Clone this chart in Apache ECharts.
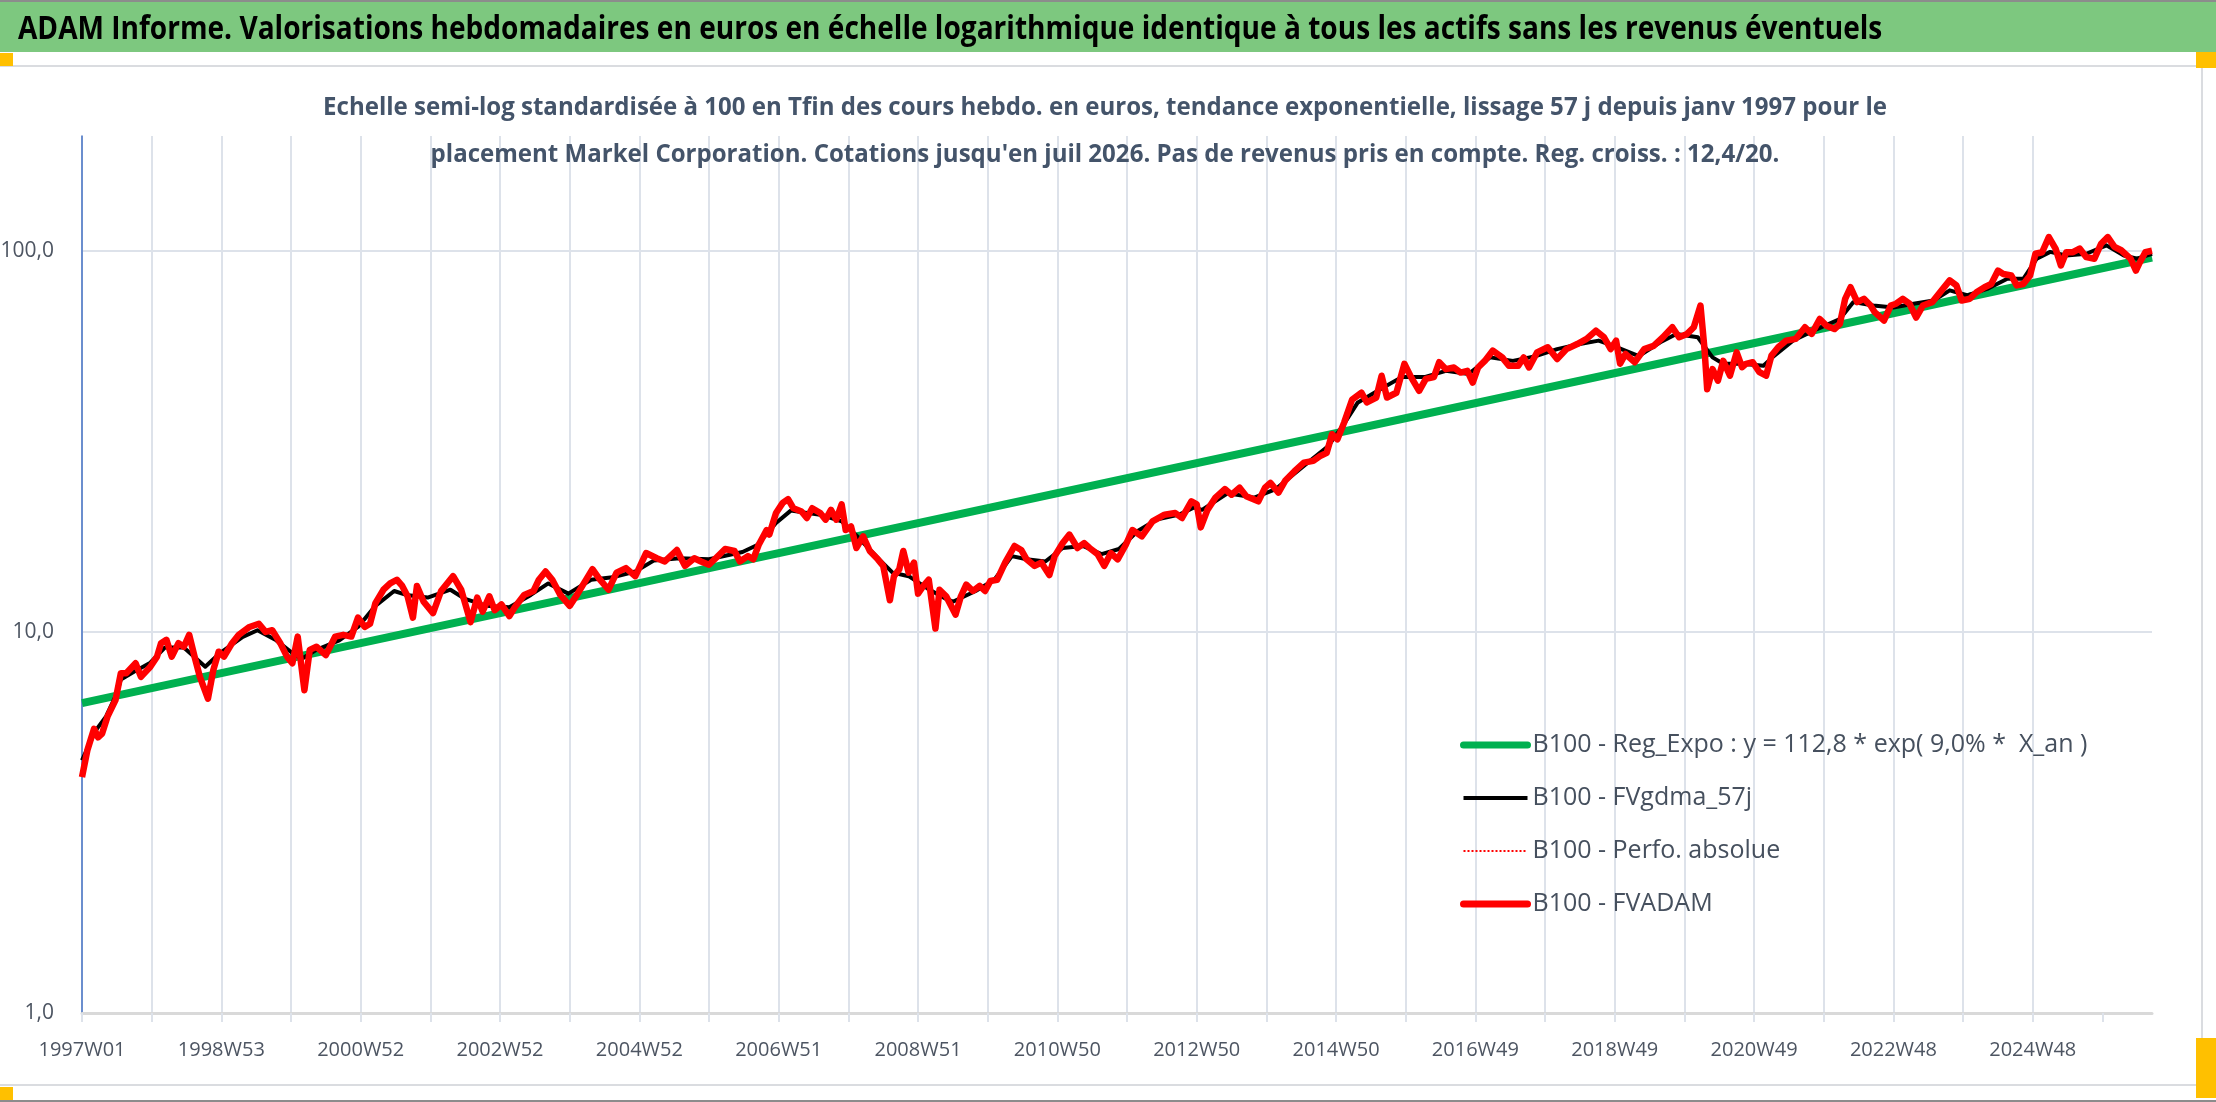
<!DOCTYPE html>
<html>
<head>
<meta charset="utf-8">
<script src="https://cdn.jsdelivr.net/npm/echarts@6/dist/echarts.min.js"></script>
<style>
html,body{margin:0;padding:0;background:#fff;}
#chart{width:2216px;height:1102px;}
</style>
</head>
<body>
<div id="chart"></div>
<script>
// ---------- DATA ----------
const titleText = "ADAM Informe. Valorisations hebdomadaires en euros en échelle logarithmique identique à tous les actifs sans les revenus éventuels";
const subtitleLines = [
  "Echelle semi-log standardisée à 100 en Tfin des cours hebdo. en euros, tendance exponentielle, lissage 57 j depuis janv 1997 pour le",
  "placement Markel Corporation. Cotations jusqu'en juil 2026. Pas de revenus pris en compte. Reg. croiss. : 12,4/20."
];
const seriesNames = [
  "B100 - Reg_Expo : y = 112,8 * exp( 9,0% *  X_an )",
  "B100 - FVgdma_57j",
  "B100 - Perfo. absolue",
  "B100 - FVADAM"
];
// x tick labels, one every 104 weeks starting at week 0
const xTickLabels = ["1997W01","1998W53","2000W52","2002W52","2004W52","2006W51","2008W51",
  "2010W50","2012W50","2014W50","2016W49","2018W49","2020W49","2022W48","2024W48"];
const weeksPerGrid = 52;
const lastWeek = 1545;

// [week index, value]
const regExpo = [[0, 6.5], [1545, 96]];

const fvadam = [
[0,4.16],[4,4.89],[9,5.57],[12,5.29],[15,5.41],[19,5.99],[25,6.62],[29,7.79],[33,7.79],[40,8.27],[44,7.62],[51,8.1],
[56,8.61],[59,9.34],[63,9.53],[67,8.61],[72,9.34],[76,9.14],[80,9.82],[84,8.61],[88,7.62],[94,6.68],[98,7.94],[102,8.87],
[106,8.61],[112,9.34],[117,9.82],[125,10.3],[132,10.5],[137,10.0],[142,10.1],[148,9.34],[153,8.61],[157,8.27],[161,9.72],
[166,7.03],[170,8.97],[175,9.14],[182,8.69],[189,9.72],[195,9.82],[201,9.72],[206,10.9],[211,10.3],[215,10.5],[219,11.9],
[225,12.9],[230,13.4],[235,13.7],[239,13.2],[243,12.4],[247,10.9],[250,13.2],[255,12.0],[262,11.2],[268,12.8],[277,14.0],
[283,12.9],[290,10.6],[295,12.3],[299,11.3],[304,12.4],[308,11.4],[313,11.8],[319,11.0],[323,11.6],[330,12.5],[337,12.8],
[341,13.7],[346,14.4],[351,13.7],[357,12.5],[364,11.7],[370,12.6],[374,13.3],[381,14.6],[386,13.8],[393,12.9],[399,14.3],
[406,14.7],[413,14.0],[421,16.1],[429,15.6],
[435,15.3],[444,16.4],[450,14.9],[457,15.6],[462,15.3],[468,15.0],[473,15.6],[480,16.5],[487,16.3],[491,15.3],[497,15.8],
[501,15.5],[505,16.9],[511,18.5],[513,18.0],[518,20.5],[523,21.8],[527,22.3],[531,21.1],[537,20.7],[541,19.9],[545,21.1],
[551,20.5],[555,19.7],[559,20.9],[563,19.7],[567,21.6],[570,18.5],[574,18.9],[578,16.6],[583,17.8],[588,16.3],[594,15.5],
[598,14.9],[603,12.1],[606,14.0],[610,14.6],[613,16.3],[617,14.3],[621,15.2],[624,12.6],[628,13.2],[632,13.7],[637,10.2],
[640,12.9],[645,12.4],[652,11.1],[656,12.4],[660,13.3],[665,12.8],[670,13.2],[674,12.8],[678,13.6],[683,13.7],[689,15.2],
[696,16.8],[701,16.4],[705,15.5],[711,14.9],[716,15.2],[722,14.1],[726,15.8],[732,17.1],[737,18.0],[743,16.6],[748,17.1],
[752,16.6],[758,16.0],[763,14.9],[768,16.1],[773,15.5],[779,16.9],[784,18.5],[791,17.8],[799,19.5],[808,20.3],[816,20.5],
[821,19.9],[828,22.0],[832,21.6],[835,18.8],
[840,20.9],[846,22.5],[853,23.7],[858,22.9],[864,23.9],[869,22.7],[878,22.0],[883,23.9],[887,24.6],[893,23.2],[898,24.9],
[905,26.4],[912,27.8],[919,28.1],[924,28.9],[929,29.5],[933,33.0],[937,32.0],[942,35.4],[948,40.7],[955,42.4],[959,40.0],
[966,41.2],[970,47.0],[974,41.2],[981,42.4],[987,50.5],[992,46.6],[998,42.9],[1003,46.1],[1009,46.6],[1013,51.0],[1018,48.9],
[1024,49.4],[1029,47.9],[1034,48.4],[1038,45.1],[1042,49.4],[1047,51.4],[1053,54.7],[1060,52.5],[1065,49.9],[1072,49.9],
[1076,52.5],[1080,49.4],[1086,54.1],[1094,55.8],[1101,52.0],[1108,55.2],[1116,56.9],[1123,58.7],[1130,61.7],[1136,59.3],
[1141,55.2],[1145,58.1],[1148,50.5],[1152,53.6],[1159,51.0],[1166,55.2],[1173,56.3],[1180,59.3],[1187,63.0],[1192,59.3],
[1198,60.5],[1203,63.0],[1208,71.8],[1211,55.2],[1213,43.3],[1217,48.9],[1221,45.6],[1225,51.4],[1230,47.0],[1235,54.1],
[1239,49.5],[1242,50.5],[1247,51.0],[1252,48.0],[1257,47.0],[1261,53.1],[1266,55.8],[1272,58.1],[1279,58.7],[1286,63.0],
[1291,60.5],[1297,66.2],[1302,63.6],[1308,62.3],[1312,64.3],[1316,74.8],[1320,80.2],[1325,73.3],[1330,74.8],[1335,71.8],
[1338,69.0],[1345,65.6],[1350,71.8],[1354,72.6],[1359,74.8],[1364,72.6],[1369,66.8],[1374,71.8],[1381,73.3],[1388,78.7],
[1394,83.6],[1399,81.1],[1403,74.0],[1409,74.8],[1414,77.8],[1420,80.2],[1425,81.8],[1430,88.7],[1434,86.9],[1440,86.1],
[1444,81.1],[1449,81.8],[1454,86.1],[1458,98.2],[1463,99.1],[1468,108.6],[1473,101.3],[1477,91.5],[1481,99.1],[1486,99.1],
[1491,101.3],[1496,96.2],[1502,95.3],[1507,104.3],[1512,108.6],[1517,102.4],[1522,100.3],[1529,95.3],[1533,88.7],[1536,93.3],
[1540,99.1],[1545,100.0]
];

const fvgdma = [
[0,4.6],[10,5.5],[18,6.0],[26,6.9],[29,7.5],[40,7.9],[51,8.3],[62,9.1],[76,9.1],[92,8.1],[103,8.8],[120,9.7],[131,10.1],
[145,9.5],[157,8.8],[164,8.5],[175,8.97],[192,9.5],[206,10.3],[219,11.7],[233,12.8],[242,12.5],[258,12.3],[275,12.9],
[286,12.2],[302,11.7],[319,11.6],[335,12.5],[348,13.4],[363,12.6],[380,13.7],[396,13.9],[413,14.4],[427,15.4],[446,15.6],
[468,15.5],[493,16.2],[504,16.9],[518,19.3],[529,20.8],[551,20.3],[567,19.5],[578,17.9],[595,15.5],[605,14.3],[617,14.0],
[631,13.0],[645,12.2],[650,12.0],[667,12.8],[681,13.7],[694,15.8],[705,15.5],[719,15.3],[732,16.6],[747,16.8],[761,16.0],
[774,16.5],[788,18.4],[802,19.7],[819,20.3],[830,21.2],[836,20.9],[855,23.1],[875,22.5],[891,23.7],[911,27.1],[930,30.7],
[941,34.7],[952,39.9],[969,43.3],[985,46.6],[1002,46.6],[1018,48.4],[1035,47.5],[1051,52.5],[1068,51.4],[1085,52.9],
[1101,55.2],[1118,56.9],[1132,58.1],[1143,56.3],[1162,52.9],[1178,57.5],[1190,60.5],[1206,59.3],[1217,52.5],[1225,50.5],
[1239,50.5],[1255,49.9],[1262,52.6],[1277,58.1],[1295,62.3],[1312,66.2],[1322,73.3],[1337,71.8],[1352,71.0],[1367,72.6],
[1382,74.0],[1394,78.7],[1407,76.4],[1422,79.4],[1437,84.4],[1449,84.4],[1459,95.3],[1469,99.3],[1481,97.2],[1496,98.2],
[1511,103.3],[1524,97.2],[1534,95.3],[1545,98.2]
];

// ---------- CHART ----------
const FONT = "'Open Sans', 'Noto Sans', sans-serif";
const GRID_COLOR = '#DDE2EA';
const chart = echarts.init(document.getElementById('chart'), null, {renderer: 'canvas'});

const gridTicks = [];
for (let w = 0; w <= lastWeek; w += weeksPerGrid) gridTicks.push(w);
// one colour per vertical grid line; the extra line at the axis end is transparent
const vGridColors = gridTicks.map(function () { return GRID_COLOR; });
vGridColors.push('rgba(0,0,0,0)');

const option = {
  animation: false,
  backgroundColor: '#ffffff',
  textStyle: {fontFamily: FONT},
  graphic: [
    {type: 'rect', shape: {x: 0, y: 0, width: 2216, height: 2}, style: {fill: '#8C8C8C'}, z: -10},
    {type: 'rect', shape: {x: 0, y: 2, width: 2216, height: 50}, style: {fill: '#7DC87F'}, z: -10},
    {type: 'rect', shape: {x: 0, y: 65, width: 2203, height: 2}, style: {fill: '#DADCE0'}, z: -10},
    {type: 'rect', shape: {x: 0, y: 1084, width: 2203, height: 2}, style: {fill: '#DADCE0'}, z: -10},
    {type: 'rect', shape: {x: 2201, y: 66, width: 2, height: 1019}, style: {fill: '#DADCE0'}, z: -10},
    {type: 'rect', shape: {x: 0, y: 1100, width: 2216, height: 2}, style: {fill: '#8C8C8C'}, z: -10},
    {type: 'rect', shape: {x: 0, y: 53, width: 13, height: 13}, style: {fill: '#FFC000'}, z: -9},
    {type: 'rect', shape: {x: 2196, y: 52, width: 20, height: 16}, style: {fill: '#FFC000'}, z: -9},
    {type: 'rect', shape: {x: 0, y: 1087, width: 13, height: 13}, style: {fill: '#FFC000'}, z: -9},
    {type: 'rect', shape: {x: 2196, y: 1038, width: 20, height: 60}, style: {fill: '#FFC000'}, z: -9},
    {
      type: 'text', x: 18, y: 30, scaleX: 0.877, z: 10,
      style: {text: titleText, fill: '#000000', fontFamily: FONT, fontSize: 32, fontWeight: 'bold',
              align: 'left', verticalAlign: 'middle'}
    },
    {
      type: 'text', x: 1105, y: 108, scaleX: 0.962, z: 10,
      style: {text: subtitleLines[0], fill: '#44546A', fontFamily: FONT, fontSize: 25, fontWeight: 'bold',
              align: 'center', verticalAlign: 'middle'}
    },
    {
      type: 'text', x: 1105, y: 155, scaleX: 0.962, z: 10,
      style: {text: subtitleLines[1], fill: '#44546A', fontFamily: FONT, fontSize: 25, fontWeight: 'bold',
              align: 'center', verticalAlign: 'middle'}
    }
  ],
  legend: {
    orient: 'vertical', left: 1455, top: 725,
    itemWidth: 64, itemHeight: 14, itemGap: 23,
    selectedMode: false,
    itemStyle: {opacity: 0},
    textStyle: {fontFamily: FONT, fontSize: 25, color: '#46505E', lineHeight: 30},
    data: [
      {name: seriesNames[0], lineStyle: {width: 7, color: '#00B050', cap: 'round'}},
      {name: seriesNames[1], lineStyle: {width: 4, color: '#000000'}},
      {name: seriesNames[2], lineStyle: {width: 2, color: '#FF0000', type: 'dotted'}},
      {name: seriesNames[3], lineStyle: {width: 7, color: '#FF0000', cap: 'round'}}
    ]
  },
  grid: {left: 82, right: 64, top: 136, bottom: 89, containLabel: false, outerBoundsMode: 'none'},
  xAxis: {
    type: 'value', min: 0, max: lastWeek, interval: weeksPerGrid,
    axisLine: {show: true, lineStyle: {color: '#D9D9D9', width: 3}},
    axisTick: {show: true, length: 9, customValues: gridTicks, lineStyle: {color: GRID_COLOR, width: 2}},
    axisLabel: {
      fontFamily: FONT, fontSize: 20, color: '#4D5562', margin: 27,
      customValues: gridTicks,
      formatter: function (v) {
        if (v % 104 === 0 && xTickLabels[v / 104] !== undefined) return xTickLabels[v / 104];
        return '';
      }
    },
    splitLine: {show: true, showMinLine: true, showMaxLine: false, lineStyle: {color: vGridColors, width: 2}}
  },
  yAxis: {
    type: 'log', logBase: 10, min: 1, max: 200,
    axisLine: {show: true, lineStyle: {color: '#4472C4', width: 1.5}},
    axisTick: {show: false},
    axisLabel: {
      fontFamily: FONT, fontSize: 21, color: '#4D5562', margin: 28,
      formatter: function (v) {
        const l = Math.log10(v);
        if (Math.abs(l - Math.round(l)) < 1e-6) return v.toFixed(1).replace('.', ',');
        return '';
      }
    },
    splitLine: {show: true, showMinLine: false, showMaxLine: false, lineStyle: {color: GRID_COLOR, width: 2}}
  },
  series: [
    {
      name: seriesNames[0], type: 'line', data: regExpo, symbol: 'none',
      lineStyle: {color: '#00B050', width: 8}, itemStyle: {color: '#00B050'}, z: 2
    },
    {
      name: seriesNames[1], type: 'line', data: fvgdma, symbol: 'none',
      lineStyle: {color: '#000000', width: 4, join: 'round'}, itemStyle: {color: '#000000'}, z: 3
    },
    {
      name: seriesNames[2], type: 'line', data: fvadam, symbol: 'none',
      lineStyle: {color: '#FF0000', width: 2, type: 'dotted'}, itemStyle: {color: '#FF0000'}, z: 3
    },
    {
      name: seriesNames[3], type: 'line', data: fvadam, symbol: 'none',
      lineStyle: {color: '#FF0000', width: 6.5, join: 'round'}, itemStyle: {color: '#FF0000'}, z: 4
    }
  ]
};
chart.setOption(option);
</script>
</body>
</html>
